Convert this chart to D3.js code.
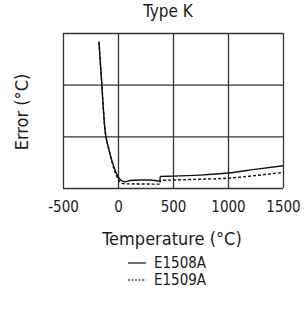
<!DOCTYPE html>
<html>
<head>
<meta charset="utf-8">
<script src="https://cdn.jsdelivr.net/npm/d3@7"></script>
<style>
  body { margin: 0; background: #fff; }
  text { font-family: "DejaVu Sans Condensed", "Liberation Sans Narrow", sans-serif; font-stretch: condensed; fill: #1a1a1a; }
</style>
</head>
<body>
<div id="chart"></div>
<script>
// temperature (°C) and error (in grid divisions, no scale printed)
var tempE1508A = [-173, -148, -118, -109, -82, -57, -27, -3, 27, 64, 109, 200, 291, 382, 383, 500, 745, 1000, 1245, 1500];
var errE1508A  = [2.83, 2.03, 1.12, 0.99, 0.74, 0.54, 0.35, 0.23, 0.15, 0.12, 0.145, 0.155, 0.155, 0.135, 0.225, 0.23, 0.25, 0.29, 0.36, 0.43];
var tempE1509A = [-173, -148, -118, -109, -82, -57, -27, 5, 36, 91, 200, 382, 383, 500, 745, 1000, 1245, 1500];
var errE1509A  = [2.83, 2.03, 1.12, 0.99, 0.74, 0.52, 0.31, 0.155, 0.09, 0.08, 0.078, 0.075, 0.145, 0.155, 0.17, 0.19, 0.24, 0.30];
var xTicks = [-500, 0, 500, 1000, 1500];
var yGrid = [0, 1, 2, 3];
var seriesNames = ['E1508A', 'E1509A'];

var W = 307, H = 310;
var mLeft = 63, mRight = 283, mTop = 33, mBottom = 188;

var svg = d3.select('#chart').append('svg')
    .attr('width', W)
    .attr('height', H);

var x = d3.scaleLinear().domain([-500, 1500]).range([mLeft, mRight]);
var y = d3.scaleLinear().domain([0, 3]).range([mBottom, mTop]);

// grid + tick labels
var xAxis = svg.append('g')
    .attr('transform', 'translate(0,' + mBottom + ')')
    .call(d3.axisBottom(x).tickValues(xTicks).tickSize(-(mBottom - mTop)).tickPadding(9)
        .tickFormat(function(d) { return String(d); }));
xAxis.select('.domain').remove();
xAxis.selectAll('line').attr('stroke', '#333').attr('stroke-width', 1.3);
xAxis.selectAll('text')
    .style('font-size', '15px')
    .attr('fill', '#1a1a1a')
    .attr('dy', null)
    .attr('y', 24);

var yAxis = svg.append('g')
    .attr('transform', 'translate(' + mLeft + ',0)')
    .call(d3.axisLeft(y).tickValues(yGrid).tickSize(-(mRight - mLeft)).tickFormat(''));
yAxis.select('.domain').remove();
yAxis.selectAll('line').attr('stroke', '#333').attr('stroke-width', 1.3);

var line = d3.line()
    .x(function(d) { return x(d[0]); })
    .y(function(d) { return y(d[1]); })
    .curve(d3.curveMonotoneX);

svg.append('path')
    .datum(d3.zip(tempE1509A, errE1509A))
    .attr('d', line)
    .attr('fill', 'none')
    .attr('stroke', '#111')
    .attr('stroke-width', 1.4)
    .attr('stroke-dasharray', '3,2');

svg.append('path')
    .datum(d3.zip(tempE1508A, errE1508A))
    .attr('d', line)
    .attr('fill', 'none')
    .attr('stroke', '#111')
    .attr('stroke-width', 1.4);

// titles
svg.append('text')
    .attr('x', 168).attr('y', 17)
    .attr('text-anchor', 'middle')
    .style('font-size', '17px')
    .text('Type K');

svg.append('text')
    .attr('x', 172).attr('y', 245)
    .attr('text-anchor', 'middle')
    .style('font-size', '18px')
    .text('Temperature (°C)');

svg.append('text')
    .attr('transform', 'translate(28,112) rotate(-90)')
    .attr('text-anchor', 'middle')
    .style('font-size', '18px')
    .text('Error (°C)');

// legend
var legend = svg.selectAll('.legend')
    .data(seriesNames)
    .enter()
    .append('g')
    .attr('class', 'legend')
    .attr('transform', function(d, i) { return 'translate(128,' + (263 + i * 17) + ')'; });

legend.append('line')
    .attr('x1', 0).attr('x2', 18)
    .attr('stroke', '#111')
    .attr('stroke-width', 1.2)
    .attr('stroke-dasharray', function(d, i) { return i ? '2,1.5' : null; });

legend.append('text')
    .attr('x', 26).attr('y', 5)
    .style('font-size', '15px')
    .text(function(d) { return d; });
</script>
</body>
</html>
